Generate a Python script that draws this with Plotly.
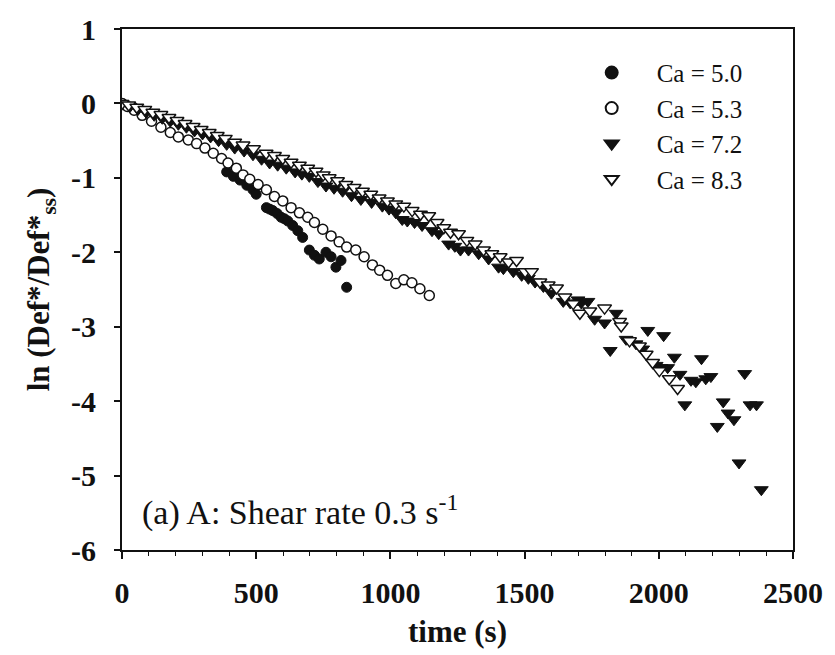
import plotly.graph_objects as go

# ---- data (time in s, ln(Def*/Def*ss)) ----
t_50 = [0, 390, 415, 440, 465, 488, 500, 538, 550, 562, 578, 593, 605, 618, 636, 655, 673,
        698, 717, 735, 760, 779, 797, 816, 837]
v_50 = [0, -0.92, -0.98, -1.03, -1.10, -1.16, -1.22, -1.40, -1.42, -1.44, -1.48, -1.53, -1.55,
        -1.58, -1.64, -1.71, -1.80, -1.97, -2.04, -2.09, -2.00, -2.06, -2.20, -2.11, -2.47]

t_53 = [0, 20, 45, 75, 110, 145, 180, 210, 247, 278, 309, 340, 371, 395, 426, 451, 476, 507,
        538, 568, 599, 630, 661, 692, 717, 748, 779, 809, 837, 871, 902, 933, 960, 989, 1020,
        1050, 1080, 1110, 1145]
v_53 = [0, -0.04, -0.09, -0.16, -0.24, -0.32, -0.39, -0.45, -0.49, -0.54, -0.60, -0.67, -0.74,
        -0.80, -0.87, -0.96, -1.02, -1.09, -1.16, -1.25, -1.31, -1.40, -1.47, -1.53, -1.60,
        -1.69, -1.78, -1.86, -1.93, -1.97, -2.06, -2.17, -2.24, -2.31, -2.42, -2.37, -2.41,
        -2.49, -2.58]

t_72 = [0, 30, 60, 90, 120, 150, 180, 210, 240, 270, 300, 330, 360, 390, 420, 455, 488, 520,
        550, 580, 612, 645, 670, 698, 730, 760, 790, 822, 855, 890, 930, 970, 995, 1020, 1044,
        1063, 1090, 1118, 1155, 1180, 1217, 1240, 1261, 1291, 1329, 1366, 1403, 1421, 1458,
        1489, 1514, 1539, 1570, 1600, 1644, 1670, 1699, 1711, 1736, 1761, 1798, 1819, 1841,
        1878, 1915, 1940, 1959, 1990, 2008, 2018, 2033, 2058, 2079, 2097, 2120, 2138, 2159,
        2175, 2194, 2218, 2240, 2258, 2280, 2299, 2320, 2340, 2364, 2382]
v_72 = [0, -0.04, -0.08, -0.12, -0.16, -0.20, -0.24, -0.28, -0.32, -0.37, -0.41, -0.45, -0.50,
        -0.55, -0.60, -0.64, -0.69, -0.75, -0.80, -0.83, -0.87, -0.92, -0.95, -0.98, -1.05,
        -1.11, -1.14, -1.18, -1.24, -1.29, -1.33, -1.38, -1.42, -1.47, -1.56, -1.58, -1.60,
        -1.64, -1.71, -1.75, -1.89, -1.92, -1.97, -1.97, -2.02, -2.09, -2.20, -2.22, -2.26,
        -2.31, -2.35, -2.40, -2.46, -2.55, -2.66, -2.68, -2.64, -2.68, -2.66, -2.90, -2.95,
        -3.32, -2.82, -3.17, -3.23, -3.30, -3.05, -3.52, -3.55, -3.12, -3.55, -3.41, -3.64,
        -4.05, -3.72, -3.74, -3.43, -3.70, -3.67, -4.34, -4.01, -4.16, -4.25, -4.83, -3.63,
        -4.05, -4.05, -5.19]

t_83 = [0, 25, 55, 85, 115, 145, 175, 205, 235, 265, 295, 325, 355, 385, 420, 451, 490, 537,
        568, 599, 630, 661, 692, 723, 750, 772, 803, 834, 865, 896, 927, 958, 989, 1020, 1050,
        1081, 1112, 1143, 1174, 1199, 1224, 1254, 1285, 1316, 1347, 1378, 1409, 1440, 1470,
        1502, 1526, 1557, 1588, 1619, 1650, 1681, 1706, 1743, 1798, 1854, 1860, 1891, 1928,
        1953, 1977, 2002, 2039, 2070]
v_83 = [0, -0.02, -0.05, -0.08, -0.12, -0.15, -0.19, -0.23, -0.27, -0.31, -0.35, -0.39, -0.43,
        -0.47, -0.52, -0.56, -0.61, -0.67, -0.70, -0.74, -0.79, -0.83, -0.87, -0.91, -0.96,
        -1.00, -1.04, -1.09, -1.13, -1.18, -1.22, -1.27, -1.31, -1.35, -1.38, -1.44, -1.49,
        -1.51, -1.60, -1.67, -1.73, -1.75, -1.84, -1.89, -1.97, -2.02, -2.06, -2.13, -2.11,
        -2.26, -2.26, -2.40, -2.44, -2.48, -2.60, -2.69, -2.82, -2.79, -2.75, -2.93, -2.99,
        -3.19, -3.26, -3.37, -3.48, -3.59, -3.70, -3.83]

names = ["Ca = 5.0", "Ca = 5.3", "Ca = 7.2", "Ca = 8.3"]
x_ticks = [0, 500, 1000, 1500, 2000, 2500]
y_ticks = [1, 0, -1, -2, -3, -4, -5, -6]

SERIF = "Liberation Serif, Times New Roman, serif"
pad = "\u2002\u2002"

fig = go.Figure()
fig.add_trace(go.Scatter(x=t_50, y=v_50, mode="markers", name=pad + names[0],
                         legendgroup="a",
                         marker=dict(symbol="circle", size=10, color="#111111",
                                     line=dict(color="#111111", width=1))))
fig.add_trace(go.Scatter(x=t_53, y=v_53, mode="markers", name=pad + names[1],
                         legendgroup="b",
                         marker=dict(symbol="circle", size=10, color="white",
                                     line=dict(color="#111111", width=1.5))))
fig.add_trace(go.Scatter(x=t_72, y=v_72, mode="markers", name=pad + names[2],
                         legendgroup="c",
                         marker=dict(symbol="triangle-down", size=12, color="#111111",
                                     line=dict(color="#111111", width=1))))
fig.add_trace(go.Scatter(x=t_83, y=v_83, mode="markers", name=pad + names[3],
                         legendgroup="d",
                         marker=dict(symbol="triangle-down", size=12, color="white",
                                     line=dict(color="#111111", width=1.5))))

axis_common = dict(showline=True, linecolor="#111111", linewidth=2, mirror=True,
                   showgrid=False, zeroline=False, ticks="outside", tickcolor="#111111",
                   tickwidth=1.5,
                   tickfont=dict(family=SERIF, size=30, color="#111111", weight="bold"))

fig.update_xaxes(range=[0, 2500], tickvals=x_ticks, ticktext=[str(v) for v in x_ticks],
                 ticklen=7, ticklabelstandoff=8,
                 minor=dict(ticks="outside", dtick=100, ticklen=4, tickcolor="#111111",
                            tickwidth=1.2),
                 title=dict(text="time (s)", standoff=12,
                            font=dict(family=SERIF, size=31, color="#111111", weight="bold")),
                 **axis_common)
fig.update_yaxes(range=[-6, 1], tickvals=y_ticks, ticktext=[str(v) for v in y_ticks],
                 ticklen=6, ticklabelstandoff=12,
                 title=dict(text="ln (Def*/Def*<sub>ss</sub>)", standoff=12,
                            font=dict(family=SERIF, size=31, color="#111111", weight="bold")),
                 **axis_common)

fig.add_annotation(xref="paper", yref="paper", x=0.027, y=0.075, xanchor="left",
                   yanchor="middle", showarrow=False,
                   text="(a) A: Shear rate 0.3 s<sup>-1</sup>",
                   font=dict(family=SERIF, size=34, color="#111111"))

fig.update_layout(
    width=835, height=655,
    margin=dict(l=122, r=39, t=24, b=103),
    paper_bgcolor="white", plot_bgcolor="white",
    showlegend=True,
    legend=dict(x=0.70, y=0.96, xanchor="left", yanchor="top",
                bgcolor="rgba(0,0,0,0)", borderwidth=0,
                font=dict(family=SERIF, size=25, color="#111111"),
                tracegroupgap=0, itemsizing="constant"),
)

fig.write_html("out.html")
